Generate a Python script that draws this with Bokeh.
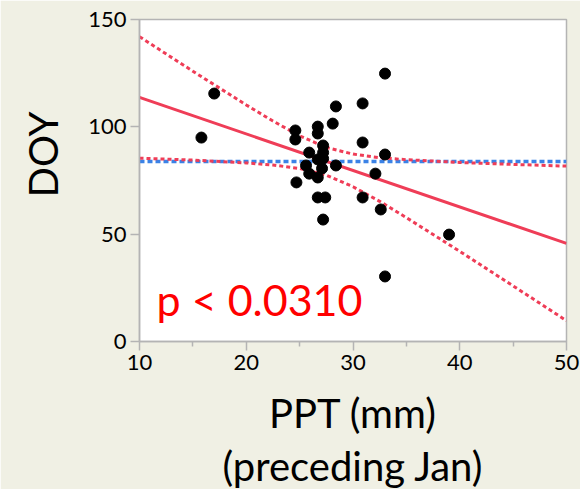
from bokeh.plotting import figure
from bokeh.models import Label, Title, Range1d, FixedTicker
from bokeh.embed import file_html
from bokeh.resources import INLINE

# Data
ppt = [15.8, 17.0, 24.6, 24.6, 24.7, 26.7, 26.7, 28.1, 28.4, 30.9, 33.0,
       30.9, 33.0, 25.9, 27.2, 27.2, 26.7, 27.2, 25.6, 27.1, 28.4, 25.9,
       26.7, 32.1, 26.7, 27.4, 30.9, 32.6, 27.2, 39.0, 33.0]
doy = [95.0, 115.5, 98.3, 94.1, 74.1, 100.1, 96.9, 101.5, 109.5, 110.9, 124.8,
       92.7, 87.1, 88.0, 91.3, 88.0, 84.8, 85.2, 82.0, 80.6, 82.0, 78.2,
       76.4, 78.2, 67.1, 67.1, 67.1, 61.5, 56.8, 49.8, 30.3]

fit_x = [10, 50]
fit_y = [113.7, 45.7]

band_x = [10, 15, 20, 22.5, 25, 27.5, 30, 32.5, 35, 40, 45, 50]
band_upper = [142.0, 125.9, 110.2, 102.7, 95.8, 90.4, 87.3, 85.6, 84.7, 83.4, 82.5, 81.7]
band_lower = [85.4, 84.5, 83.2, 82.2, 80.6, 77.5, 72.1, 65.3, 57.7, 42.0, 25.9, 9.7]

mean_x = [10, 50]
mean_y = [83.8, 83.8]

x_ticks = [10, 20, 30, 40, 50]
x_minor = [15, 25, 35, 45]
y_ticks = [0, 50, 100, 150]
p_text = "p < 0.0310"
x_title = ["PPT (mm)", "(preceding Jan)"]
y_title = "DOY"

BG = "#f0f0e4"
RED = "#ef3d57"
BLUE = "#3b82e6"
GREY = "#b4b4b4"
FONT = "Lato"

p = figure(width=580, height=489, output_backend="svg", toolbar_location=None,
           x_range=Range1d(10, 50), y_range=Range1d(0, 150),
           min_border_left=139, min_border_right=14, min_border_top=19,
           min_border_bottom=148)
p.background_fill_color = "white"
p.border_fill_color = BG
p.outline_line_color = GREY
p.outline_line_width = 1.5
p.grid.visible = False

p.xaxis.ticker = FixedTicker(ticks=x_ticks, minor_ticks=x_minor)
p.yaxis.ticker = FixedTicker(ticks=y_ticks)
for ax in (p.xaxis, p.yaxis):
    ax.axis_line_color = GREY
    ax.axis_line_width = 1.5
    ax.major_tick_line_color = GREY
    ax.major_tick_line_width = 1.5
    ax.minor_tick_line_color = GREY
    ax.minor_tick_line_width = 1.5
    ax.major_tick_in = 0
    ax.major_tick_out = 9
    ax.minor_tick_in = 0
    ax.minor_tick_out = 5
    ax.major_label_text_font = FONT
    ax.major_label_text_font_size = "22px"
    ax.major_label_text_color = "black"
    ax.major_label_standoff = 4
p.yaxis.minor_tick_out = 0

p.xaxis.axis_label = x_title[0]
p.xaxis.axis_label_text_font = FONT
p.xaxis.axis_label_text_font_size = "40px"
p.xaxis.axis_label_text_font_style = "normal"
p.xaxis.axis_label_text_color = "black"
p.xaxis.axis_label_standoff = 16

p.line(mean_x, mean_y, line_color=BLUE, line_width=3.5, line_dash="5 3")
p.line(band_x, band_upper, line_color=RED, line_width=3, line_dash="4 3")
p.line(band_x, band_lower, line_color=RED, line_width=3, line_dash="4 3")
p.line(fit_x, fit_y, line_color=RED, line_width=3)
p.scatter(ppt, doy, size=11, fill_color="black", line_color="black")

p.add_layout(Label(x=11.6, y=19.5, text=p_text, text_color="#ff0000",
                   text_font=FONT, text_font_size="43px",
                   text_baseline="alphabetic"))

p.add_layout(Title(text=x_title[1], align="center",
                   text_font=FONT, text_font_size="40px", text_font_style="normal",
                   text_color="black", standoff=0), "below")
p.add_layout(Title(text=y_title, align="left", offset=144, vertical_align="top",
                   text_font=FONT, text_font_size="40px", text_font_style="normal",
                   text_color="black", standoff=34), "left")

open("out.html", "w").write(file_html(p, INLINE))
